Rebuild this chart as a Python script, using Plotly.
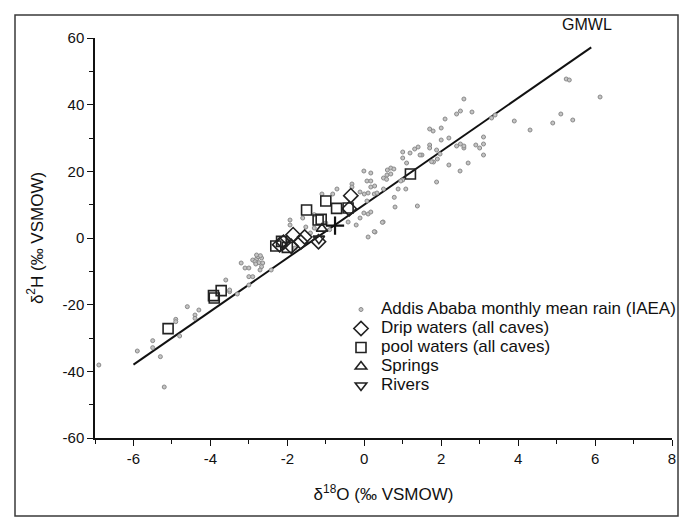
import plotly.graph_objects as go

# Addis Ababa monthly mean rain (IAEA)
rain_x = [
    -6.9, -5.9, -5.5, -5.5, -5.3, -5.2,
    -4.9, -4.9, -4.8, -4.6, -4.4, -4.4, -4.3,
    -3.6, -3.5, -3.3, -3.0, -3.5,
    -3.2, -3.1, -3.0, -3.0, -2.9,
    -2.9, -2.8, -2.76, -2.67, -2.74, -2.64, -2.8, -2.7, -2.84, -2.82, -2.67, -2.71, -2.42,
    -1.93, -1.93, -1.52,
    -2.0, -1.8, -1.4, -1.3, -1.6, -1.0, -0.9, -1.3,
    -1.1, -0.82, -0.71, -0.32, -0.32,
    -0.42, -0.21, -0.11, -0.01, 0.1, 0.17, 0.49, 0.28, 0.1,
    -0.11, 0.0, 0.07, 0.1, 0.26, 0.33,
    0.78, 0.8, 1.38,
    0.5, 0.88, 1.08, 1.0,
    -0.01, 0.17, 0.07, 0.17, 0.17, 0.27,
    0.6, 0.69, 0.77, 0.5, 0.59, 0.69,
    1.0, 1.0, 1.19, 1.31, 1.40, 1.5, 1.1,
    1.88, 1.9, 1.8, 2.2, 2.49, 2.7,
    1.7, 1.79, 2.0, 2.0, 2.2, 2.4, 2.5, 2.59, 2.59,
    2.9, 3.0, 3.1, 3.1, 3.1, 1.7, 1.7, 1.88,
    2.59, 2.4, 2.5, 2.8, 2.1, 3.31, 3.4, 3.9, 4.31, 4.9, 5.11, 5.42, 5.25, 5.33, 6.13,
    0.47, 0.26, 1.75, 1.97, 1.45, 0.95, 0.58,
]
rain_y = [
    -38.1, -33.9, -30.8, -32.9, -35.6, -44.7,
    -24.4, -25.1, -29.4, -20.6, -23.1, -24.1, -21.6,
    -12.6, -16.1, -16.8, -14.1, -15.6,
    -7.5, -9.0, -9.0, -11.6, -11.6,
    -6.6, -6.3, -5.6, -6.0, -7.4, -7.5, -5.1, -5.3, -7.1, -7.8, -8.6, -9.6, -9.6,
    5.4, 3.9, 3.3,
    -0.5, -3.0, 1.5, 3.0, 6.0, 4.5, 2.5, 7.0,
    13.2, 13.2, 14.7, 16.2, 15.3,
    4.8, 3.9, 6.0, 7.5, 7.2, 7.8, 4.8, 1.8, 0.3,
    13.8, 13.2, 11.1, 13.5, 13.2, 13.5,
    12.2, 9.3, 9.6,
    14.7, 14.7, 14.7, 17.4,
    20.1, 19.5, 17.1, 17.1, 15.3, 15.6,
    20.4, 21.0, 20.7, 18.0, 18.9, 19.2,
    25.8, 24.0, 25.5, 26.7, 27.3, 24.9, 22.5,
    16.8, 23.7, 22.8, 21.9, 20.1, 22.5,
    32.7, 32.1, 33.0, 29.4, 30.0, 27.6, 28.2, 27.0, 27.6,
    27.9, 27.0, 28.2, 30.3, 24.9, 27.9, 27.0, 26.4,
    41.7, 37.2, 38.1, 37.8, 35.7, 36.0, 36.9, 35.1, 32.4, 34.5, 37.2, 35.4, 47.7, 47.4, 42.3,
    4.7, 1.9, 22.9, 25.2, 24.9, 17.1, 17.6,
]

# Drip waters (all caves)
drip_x = [-2.1, -1.9, -1.85, -1.65, -1.55, -1.19, -0.39, -0.35, -2.2]
drip_y = [-1.3, -2.5, 1.0, -1.2, 0.3, -1.1, 8.8, 12.7, -2.0]

# pool waters (all caves)
pool_x = [-5.1, -3.9, -3.92, -3.72, -2.3, -2.15, -1.5, -1.0, -0.72, -0.42, -1.2, -1.12, 1.2, -2.0]
pool_y = [-27.2, -18.0, -17.3, -15.8, -2.4, -1.0, 8.4, 11.1, 8.9, 9.0, 5.4, 5.6, 19.2, -2.8]

springs_x = [-1.1]
springs_y = [2.8]
rivers_x = [-1.18]
rivers_y = [-0.2]

cross_x = [-0.76]
cross_y = [3.7]

gmwl_x = [-6.0, 5.9]
gmwl_y = [-38.0, 57.2]

x_ticks = [-6, -4, -2, 0, 2, 4, 6, 8]
x_ticklabels = ["-6", "-4", "-2", "0", "2", "4", "6", "8"]
y_ticks = [-60, -40, -20, 0, 20, 40, 60]
y_ticklabels = ["-60", "-40", "-20", "0", "20", "40", "60"]

FONT = "Arial, Liberation Sans, sans-serif"
BIG = "<span style='font-size:17px'>{}</span>"

W, H = 681, 518
L, R, T, B = 95, 9, 38, 80
PW, PH = W - L - R, H - T - B

fig = go.Figure()
fig.add_trace(go.Scatter(
    x=gmwl_x, y=gmwl_y, mode="lines", showlegend=False,
    line=dict(color="#111111", width=2),
))
fig.add_trace(go.Scatter(
    x=rain_x, y=rain_y, mode="markers",
    name=BIG.format("Addis Ababa monthly mean rain (IAEA)"),
    marker=dict(symbol="circle", size=4, color="#c4c4c4",
                line=dict(color="#8a8a8a", width=1)),
))
fig.add_trace(go.Scatter(
    x=drip_x, y=drip_y, mode="markers", name=BIG.format("Drip waters (all caves)"),
    marker=dict(symbol="diamond-open", size=11, color="#222222", line=dict(width=1.6)),
))
fig.add_trace(go.Scatter(
    x=pool_x, y=pool_y, mode="markers", name=BIG.format("pool waters (all caves)"),
    marker=dict(symbol="square-open", size=10, color="#222222", line=dict(width=1.6)),
))
fig.add_trace(go.Scatter(
    x=springs_x, y=springs_y, mode="markers", name=BIG.format("Springs"),
    marker=dict(symbol="triangle-up-open", size=10, color="#222222", line=dict(width=1.6)),
))
fig.add_trace(go.Scatter(
    x=rivers_x, y=rivers_y, mode="markers", name=BIG.format("Rivers"),
    marker=dict(symbol="triangle-down-open", size=10, color="#222222", line=dict(width=1.6)),
))
fig.add_trace(go.Scatter(
    x=cross_x, y=cross_y, mode="markers", showlegend=False,
    marker=dict(symbol="cross-thin-open", size=13, color="#111111", line=dict(width=2.2)),
))

fig.add_annotation(
    x=5.8, y=1 + 14 / PH, yanchor="middle", text="GMWL", showarrow=False,
    xref="x", yref="paper",
    font=dict(size=16, color="#111111", family=FONT),
)

# outer frame around the picture
fig.add_shape(
    type="rect", xref="paper", yref="paper", layer="above",
    x0=(15 - L) / PW, x1=(678 - L) / PW,
    y0=-(B - 2) / PH, y1=1 + (T - 15) / PH,
    line=dict(color="#3a3a3a", width=1.5),
)

axis_common = dict(
    showgrid=False, zeroline=False, showline=True, linecolor="#111111", linewidth=1.5,
    ticks="outside", ticklen=6, tickwidth=1.3, tickcolor="#111111", automargin=False,
    tickfont=dict(size=15, color="#111111", family=FONT),
)

fig.update_layout(
    width=W, height=H,
    margin=dict(l=L, r=R, t=T, b=B, autoexpand=False),
    paper_bgcolor="white", plot_bgcolor="white",
    font=dict(family=FONT, color="#111111"),
    xaxis=dict(
        range=[-7, 8], tickmode="array", tickvals=x_ticks, ticktext=x_ticklabels,
        minor=dict(dtick=1, tick0=0, ticks="outside", ticklen=4, tickwidth=1.3, tickcolor="#111111"),
        title=dict(text="δ<sup>18</sup>O (‰ VSMOW)", font=dict(size=17, family=FONT), standoff=22),
        **axis_common,
    ),
    yaxis=dict(
        range=[-60, 60], tickmode="array", tickvals=y_ticks, ticktext=y_ticklabels,
        minor=dict(dtick=10, tick0=0, ticks="outside", ticklen=4, tickwidth=1.3, tickcolor="#111111"),
        title=dict(text="δ<sup>2</sup>H (‰ VSMOW)", font=dict(size=17, family=FONT), standoff=15),
        **axis_common,
    ),
    legend=dict(
        x=(341 - L) / PW, y=1 - (295 - T) / PH, xanchor="left", yanchor="top",
        bgcolor="rgba(0,0,0,0)", font=dict(size=12, family=FONT, color="#111111"),
        tracegroupgap=0, itemsizing="trace",
    ),
)

# drop the default 8 px page margin so the figure fills the window exactly
fig.write_html(
    "out.html",
    config={"displayModeBar": False},
    post_script="document.body.style.margin='0';document.body.style.overflow='hidden';",
)
